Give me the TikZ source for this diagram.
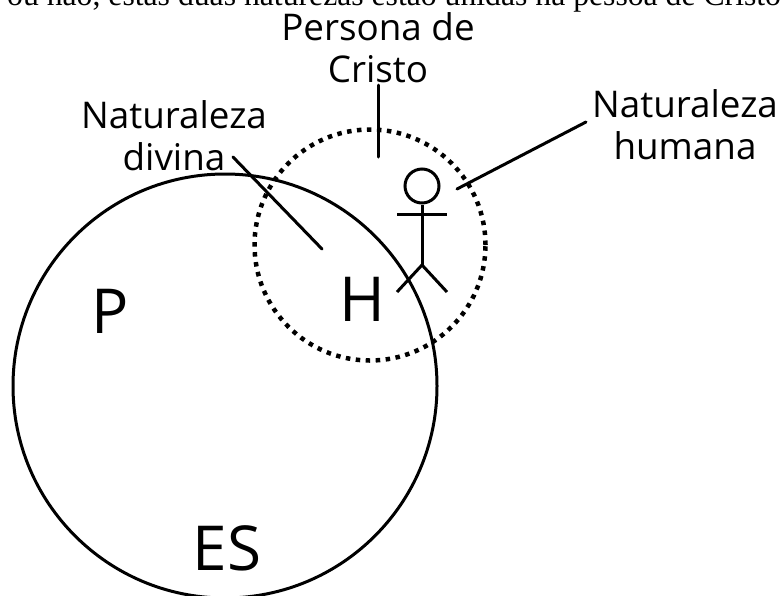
\documentclass[tikz,border=0pt]{standalone}
\usepackage{fontspec}
\setmainfont{Liberation Serif}
\newfontfamily\labelfont{Open Sans}
\tikzset{
  labeltext/.style={font=\labelfont\fontsize{36.8}{42}\selectfont,align=center,inner sep=0pt},
  lettertext/.style={font=\labelfont\fontsize{62}{62}\selectfont,inner sep=0pt},
  bodytext/.style={font=\fontsize{31.7}{34}\selectfont,inner sep=0pt,anchor=base west},
  pointer/.style={line width=3pt,line cap=round},
  figureline/.style={line width=3pt}
}
\begin{document}
\begin{tikzpicture}[x=1pt,y=-1pt]
      \useasboundingbox (0,0) rectangle (781,595);
      \clip (0,0) rectangle (781,595);
      \node[bodytext] (body) at (7,5) {ou não, estas duas naturezas estão unidas na pessoa de Cristo};
      \draw
        (378,48) node[labeltext] (persona){Persona de\\Cristo}
        (174,136) node[labeltext] (divina){Naturaleza\\divina}
        (685,125) node[labeltext] (humana){Naturaleza\\humana}
        (110,311) node[lettertext] (p){P}
        (362,299) node[lettertext] (h){H}
        (227,548) node[lettertext] (es){ES};
      \node[circle,draw,line width=3pt,minimum size=424pt,inner sep=0pt] (whole) at (225,386) {};
      \node[circle,draw,line width=4.5pt,dash pattern=on 4.5pt off 5.5pt,minimum size=231pt,inner sep=0pt] (person) at (370,245) {};
      \node[circle,draw,figureline,minimum size=34pt,inner sep=0pt] (head) at (422,186) {};
      \coordinate (hip) at (422,265);
      \coordinate (armleft) at (397,214);
      \coordinate (armright) at (447,214);
      \coordinate (footleft) at (397,292);
      \coordinate (footright) at (447,292);
      \coordinate (personastart) at (378,85);
      \coordinate (personaend) at (378,157);
      \coordinate (divinastart) at (233,157);
      \coordinate (divinaend) at (322,249);
      \coordinate (humanastart) at (586,122);
      \coordinate (humanaend) at (457,189);
      \begin{scope}[figureline]
        \draw (head) -- (hip);
        \draw (armleft) -- (armright);
        \draw (hip) -- (footleft);
        \draw (hip) -- (footright);
      \end{scope}
      \begin{scope}[pointer]
        \draw (personastart) -- (personaend);
        \draw (divinastart) -- (divinaend);
        \draw (humanastart) -- (humanaend);
      \end{scope}
\end{tikzpicture}
\end{document}
